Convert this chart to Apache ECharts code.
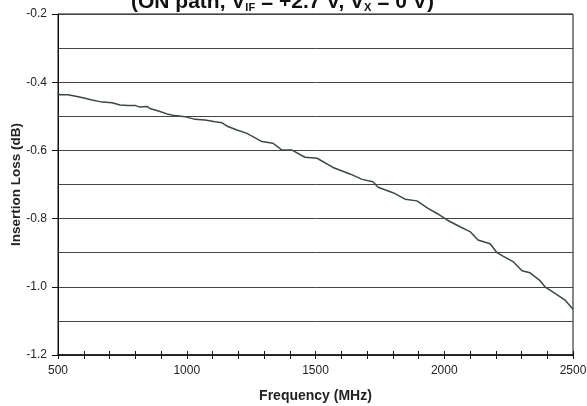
<!DOCTYPE html>
<html><head><meta charset="utf-8">
<script src="https://cdn.jsdelivr.net/npm/echarts@6/dist/echarts.min.js"></script>
<style>html,body{margin:0;padding:0;background:#fff}#c{width:587px;height:406px}</style>
</head><body><div id="c"></div>
<script>
var freq = [500,508,539,574,605,632,663,710,741,772,799,818,846,857,896,923,954,993,1032,1071,1110,1137,1160,1195,1234,1246,1292,1335,1370,1409,1459,1506,1568,1634,1681,1723,1743,1801,1848,1894,1937,1972,2011,2061,2100,2131,2178,2205,2228,2267,2302,2333,2372,2391,2430,2469,2500];
var loss = [-0.433,-0.437,-0.437,-0.442,-0.447,-0.452,-0.457,-0.46,-0.467,-0.468,-0.468,-0.473,-0.471,-0.477,-0.486,-0.493,-0.498,-0.501,-0.509,-0.511,-0.516,-0.519,-0.53,-0.54,-0.55,-0.555,-0.574,-0.579,-0.599,-0.599,-0.62,-0.623,-0.65,-0.669,-0.685,-0.692,-0.708,-0.724,-0.743,-0.748,-0.77,-0.785,-0.804,-0.824,-0.838,-0.863,-0.874,-0.9,-0.91,-0.926,-0.953,-0.959,-0.982,-1.0,-1.019,-1.039,-1.066];
var titleText = '(ON path, V{s|IF} = +2.7 V, V{s|X} = 0 V)';
var xLabel = 'Frequency (MHz)';
var yLabel = 'Insertion Loss (dB)';

var data = freq.map(function(f,i){return [f, loss[i]];});
var chart = echarts.init(document.getElementById('c'));
var font = 'Liberation Sans, Arial, sans-serif';
chart.setOption({
  animation:false,
  title:{text:titleText,left:126,top:-13,
    textStyle:{fontFamily:font,fontWeight:'bold',fontSize:21,color:'#111',
      rich:{s:{fontFamily:font,fontWeight:'bold',fontSize:11,color:'#111',verticalAlign:'bottom',padding:[10,0,0,0]}}}},
  grid:{left:58,right:14,top:14,bottom:51,outerBoundsMode:'none',containLabel:false,show:true,borderColor:'#111',borderWidth:1,backgroundColor:'transparent'},
  xAxis:[{type:'value',min:500,max:2500,interval:500,
    name:xLabel,nameLocation:'middle',nameGap:34,nameMoveOverlap:false,
    nameTextStyle:{fontFamily:font,fontWeight:'bold',fontSize:14,color:'#222'},
    axisLine:{show:true,lineStyle:{color:'#111',width:1.5}},
    axisTick:{show:true,length:4,lineStyle:{color:'#111'}},
    minorTick:{show:true,splitNumber:5,length:4,lineStyle:{color:'#111'}},
    axisLabel:{fontFamily:font,fontSize:12,color:'#222',margin:10,formatter:function(v){return String(v);}},
    splitLine:{show:false}},
   {type:'value',min:500,max:2500,interval:500,position:'bottom',
    axisLine:{show:false},axisLabel:{show:false},
    axisTick:{show:true,inside:true,length:4,lineStyle:{color:'#111'}},
    minorTick:{show:true,splitNumber:5,length:4,lineStyle:{color:'#111'}},
    splitLine:{show:false}}],
  yAxis:{type:'value',min:-1.2,max:-0.2,interval:0.2,
    name:yLabel,nameLocation:'middle',nameGap:35,nameMoveOverlap:false,
    nameTextStyle:{fontFamily:font,fontWeight:'bold',fontSize:13.5,color:'#222'},
    axisLine:{show:true,lineStyle:{color:'#111',width:1}},
    axisTick:{show:true,length:6,lineStyle:{color:'#111'}},
    axisLabel:{fontFamily:font,fontSize:12,color:'#222',margin:11,formatter:function(v){return v.toFixed(1);}},
    splitLine:{show:true,lineStyle:{color:'#444',width:1}},
    minorTick:{show:false,splitNumber:2},
    minorSplitLine:{show:true,lineStyle:{color:'#444',width:1}}},
  series:[{type:'line',data:data,showSymbol:false,smooth:false,
    lineStyle:{color:'#3b4843',width:1.5}}]
});
</script></body></html>
